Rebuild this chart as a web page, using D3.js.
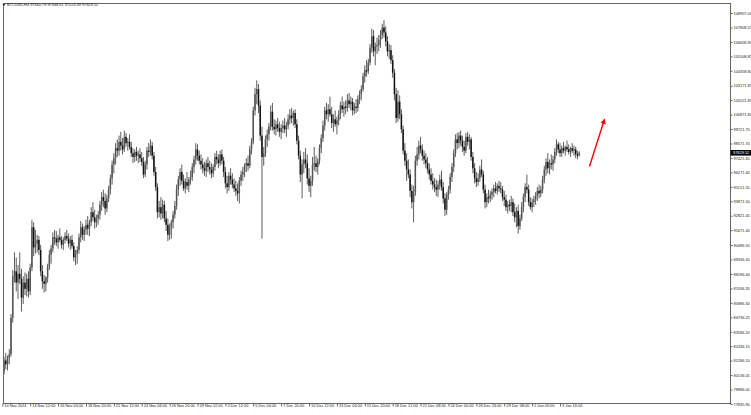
<!DOCTYPE html>
<html><head><meta charset="utf-8">
<script src="https://cdn.jsdelivr.net/npm/d3@7"></script>
<style>html,body{margin:0;padding:0;background:#fff;}svg{display:block;}</style>
</head><body>
<svg id="c" width="751" height="415"></svg>
<script>
const symbolTitle = "BTCUSD,H4";
const lastOHLC = ["97640.78","97948.61","97524.49","97829.52"];
const timeLabels = ["10 Nov 2024","13 Nov 12:00","16 Nov 04:00","18 Nov 20:00","21 Nov 12:00","24 Nov 04:00","26 Nov 20:00","29 Nov 12:00","2 Dec 12:00","5 Dec 04:00","7 Dec 20:00","10 Dec 12:00","13 Dec 04:00","15 Dec 20:00","18 Dec 12:00","21 Dec 08:00","24 Dec 00:00","26 Dec 16:00","29 Dec 08:00","1 Jan 00:00","3 Jan 16:00"];
const timeLabelBars = [0,16,32,48,64,80,96,112,128,144,160,176,192,208,224,240,256,272,288,304,320];
const priceLabels = ["108957.00","107808.55","106658.90","105508.85","104358.80","103171.95","102021.85","100871.80","99721.75","98571.70","97421.65","96271.60","95121.55","93971.50","92821.45","91671.40","90486.50","89336.45","88186.40","87036.35","85886.30","84736.25","83586.20","82436.15","81286.10","80136.05","78986.00","77835.95"];
const currentPrice = 97829.52;

const open = [
78700,80400,81300,81000,81500,81800,84700,88000,88400,87500,
88200,87800,86300,87500,87000,87800,86800,88700,91900,90300,
90600,90900,90100,88400,87600,87400,87900,88800,89700,90200,
91100,91000,90700,91100,90900,90500,90900,91200,91000,90600,
90900,90400,89500,89800,90100,91100,91900,91300,91700,92100,
91800,92300,93100,92700,92300,92600,92900,93700,94300,94000,
93400,94200,94900,95800,96900,97400,98200,98000,98700,98400,
98100,99100,98600,98700,98300,97800,97500,97900,97600,97700,
97400,97100,96100,96900,98000,97900,98400,97600,96300,95100,
93100,93500,93000,93700,92600,92100,91300,91900,92300,92900,
93600,94900,95700,96300,95600,95000,95500,95200,95700,95900,
96700,97300,98100,97600,97200,96900,96600,96400,97000,96700,
96500,96200,96700,97500,97300,97000,97700,97200,96300,95400,
95100,96000,95700,95300,95000,94800,94600,95600,96100,96300,
96800,97000,96800,98100,98700,101200,102500,102900,101600,99200,
97500,97800,98900,99300,99900,101100,99900,99700,100100,99800,
99500,99800,100000,99700,100000,100500,100800,100600,101000,100100,
98800,97600,96100,96900,97300,97000,95800,95200,95600,96900,
97000,96700,97200,98200,99000,100000,101200,100900,101300,100900,
100200,100500,100100,100400,100900,101600,101300,101500,101400,102000,
101700,101900,101200,101500,101400,102100,102500,102900,103900,104400,
104300,105000,106200,107100,105900,106300,106400,106800,107200,107800,
107400,106700,105900,106000,105200,104200,102500,100600,101900,100900,
99700,98000,97200,96500,96100,94800,93900,94700,97200,97700,
98400,98100,97600,97300,97000,96500,96100,95600,95300,95100,
94900,95300,95700,95100,94200,93300,94500,94900,95900,96700,
97800,98900,98600,99200,98800,98300,98000,99100,98700,98900,
97500,96600,95800,95500,95800,96500,96100,94900,93900,94300,
94200,94500,94700,95000,94800,95200,95000,94900,94300,94100,
93500,93700,93600,93900,93100,92700,93200,92000,92600,93500,
94300,95100,94900,93900,93500,93900,94100,94400,94800,94600,
94900,95700,96500,97100,96600,97000,96900,97300,97900,98500,
98100,97800,98200,98000,98300,98100,97900,98200,98000,98100,
97700,97640.78];

const high = [
81000,81600,81900,81700,82200,85000,88500,89900,89500,88900,
89900,88600,88000,88300,88200,88400,89000,92500,92300,91700,
91300,91200,90500,88900,88100,88000,89000,90100,90500,91500,
91700,91600,91300,91800,91200,91100,91500,91700,91400,91200,
91300,90700,90100,90400,91400,92400,92200,92000,92500,92800,
92500,93500,93900,93300,92900,93200,94000,94700,94900,94600,
94500,95200,96100,97200,97800,98600,98900,99200,99500,99000,
99600,99400,99000,99300,98700,98200,98100,98300,98000,98200,
97900,97500,97200,98300,98600,98900,98700,97900,96700,95400,
94000,94300,94100,94000,93200,92600,92200,92500,93200,94000,
95300,96000,96600,96900,96100,95800,96300,95900,96400,97000,
97600,98600,98500,98000,97700,97400,97100,97300,97500,97200,
97000,96900,97800,98000,97700,98000,98100,97500,96700,96000,
96300,96600,96200,95800,95600,95400,95900,96400,96700,97000,
97400,97600,98400,99000,101500,103000,103600,103300,102000,99900,
98300,99200,99700,100200,101600,101800,100500,100400,100600,100300,
100100,100400,100600,100300,100900,101300,101400,101200,101300,100500,
99200,98000,97300,97900,98200,97700,96600,96000,97500,98300,
97600,97400,98500,99300,100400,101500,101800,101700,102300,101500,
100900,101200,100700,101200,101900,102300,101900,102000,102500,102600,
102300,102200,101800,102100,102400,102800,103200,104200,104800,105200,
105300,106500,107700,107600,106600,107000,107200,107600,108100,108400,
107900,107100,106500,106400,105600,104500,103000,102800,102400,101300,
100000,98600,97800,97300,96500,95300,95200,97600,98300,98800,
99100,98500,98000,97800,97500,97000,96600,96200,95800,95700,
95600,96100,96400,95500,94600,94700,95200,96200,97000,98100,
99300,99400,99500,99600,99200,98800,99400,99500,99300,99100,
97900,97000,96300,96200,96800,97300,96400,95300,94600,94900,
94800,95000,95300,95500,95400,95600,95500,95200,94800,94500,
94000,94100,94400,94200,93800,93500,93700,92900,93900,94600,
95400,96100,95300,94300,94200,94400,94700,95100,95300,95200,
96000,96800,97400,97800,97300,97700,97600,98200,98900,98700,
98600,98400,98700,98400,98800,98500,98300,98600,98400,98300,
98000,97948.61];

const low = [
78400,80200,80600,80500,81000,81600,84300,87500,86800,86200,
87400,85200,85800,86500,86400,86300,86500,88400,89600,89800,
89900,89700,88000,87000,86700,86800,87500,88500,89000,89900,
90500,90400,90200,90700,90200,90100,90600,90800,90300,90100,
90200,89200,88900,89000,89800,90700,90900,90800,91300,91300,
91200,92000,92400,91800,91900,92100,92500,93200,93500,92900,
93100,93900,94500,95300,96200,96900,97500,97600,98000,97700,
97900,98300,98000,98100,97500,97000,97100,97200,97000,97100,
96800,95800,95900,96500,97500,97600,97300,96000,94800,92600,
92700,92500,92600,92300,91600,90800,90900,91000,91800,92600,
93300,94400,95200,95300,94800,94600,94900,94700,95300,95600,
96200,96900,97200,96900,96500,96200,96000,95900,96300,96100,
95800,95900,96400,96900,96600,96800,96900,95900,95000,94600,
94800,95300,95000,94700,94400,94000,93800,95200,95600,95900,
96300,96400,96600,97700,98500,100800,101700,101000,98800,91000,
96800,97500,98300,98800,99600,99600,99300,99200,99500,99100,
98900,99400,99400,99100,99700,100100,100200,100000,99800,98500,
97300,95500,94200,96200,96600,95300,94700,94300,95200,96400,
96300,96100,96900,97800,98700,99600,100500,100300,100700,99800,
99500,99900,99300,100000,100500,101000,100700,100900,101100,101400,
101200,100800,100900,101000,101100,101700,102000,102700,103400,103900,
104100,104800,105800,105500,104800,105700,105900,106200,106900,107000,
106300,105500,105300,104900,103800,102000,100200,100300,100500,99400,
97700,96800,95600,95800,94300,93400,92300,94400,96800,97300,
97800,97200,96900,96600,96200,95700,95300,94900,94700,94400,
94300,94900,94800,93800,92800,92900,94100,94600,95500,96300,
97500,98100,98200,98400,97900,97600,97800,98400,98100,97200,
96200,95400,95100,95200,95500,95900,94600,93400,93500,93800,
93900,94100,94300,94600,94500,94700,94600,94000,93600,93200,
93000,93200,93100,92800,92300,91900,91400,91700,92400,93100,
93900,94600,93600,93300,93100,93500,93700,94000,94200,94300,
94600,95400,96000,96200,96100,96500,96400,97000,97600,97800,
97500,97500,97800,97600,97900,97700,97500,97800,97600,97400,
97300,97524.49];

const close = [
80400,81300,81000,81500,81800,84700,88000,88400,87500,88200,
87800,86300,87500,87000,87800,86800,88700,91900,90300,90600,
90900,90100,88400,87600,87400,87900,88800,89700,90200,91100,
91000,90700,91100,90900,90500,90900,91200,91000,90600,90900,
90400,89500,89800,90100,91100,91900,91300,91700,92100,91800,
92300,93100,92700,92300,92600,92900,93700,94300,94000,93400,
94200,94900,95800,96900,97400,98200,98000,98700,98400,98100,
99100,98600,98700,98300,97800,97500,97900,97600,97700,97400,
97100,96100,96900,98000,97900,98400,97600,96300,95100,93100,
93500,93000,93700,92600,92100,91300,91900,92300,92900,93600,
94900,95700,96300,95600,95000,95500,95200,95700,95900,96700,
97300,98100,97600,97200,96900,96600,96400,97000,96700,96500,
96200,96700,97500,97300,97000,97700,97200,96300,95400,95100,
96000,95700,95300,95000,94800,94600,95600,96100,96300,96800,
97000,96800,98100,98700,101200,102500,102900,101600,99200,97500,
97800,98900,99300,99900,101100,99900,99700,100100,99800,99500,
99800,100000,99700,100000,100500,100800,100600,101000,100100,98800,
97600,96100,96900,97300,97000,95800,95200,95600,96900,97000,
96700,97200,98200,99000,100000,101200,100900,101300,100900,100200,
100500,100100,100400,100900,101600,101300,101500,101400,102000,101700,
101900,101200,101500,101400,102100,102500,102900,103900,104400,104300,
105000,106200,107100,105900,106300,106400,106800,107200,107800,107400,
106700,105900,106000,105200,104200,102500,100600,101900,100900,99700,
98000,97200,96500,96100,94800,93900,94700,97200,97700,98400,
98100,97600,97300,97000,96500,96100,95600,95300,95100,94900,
95300,95700,95100,94200,93300,94500,94900,95900,96700,97800,
98900,98600,99200,98800,98300,98000,99100,98700,98900,97500,
96600,95800,95500,95800,96500,96100,94900,93900,94300,94200,
94500,94700,95000,94800,95200,95000,94900,94300,94100,93500,
93700,93600,93900,93100,92700,93200,92000,92600,93500,94300,
95100,94900,93900,93500,93900,94100,94400,94800,94600,94900,
95700,96500,97100,96600,97000,96900,97300,97900,98500,98100,
97800,98200,98000,98300,98100,97900,98200,98000,98100,97700,
97600,97829.52];

// red annotation arrow, in bar index / price units
const arrowPts = [{bar: 336.9, price: 96740}, {bar: 345.5, price: 100480}];

const svg = d3.select("#c");
const plot = {left: 3, right: 730, top: 3, bottom: 403};
const x = d3.scaleLinear().domain([0, 320]).range([2.3, 560]);
const priceValues = priceLabels.map(Number);
const y = d3.scaleLinear().domain([priceValues[priceValues.length-1], priceValues[0]]).range([404, 13]);
const FONT = "'Liberation Sans', Arial, sans-serif";

svg.append("rect").attr("width", 751).attr("height", 415).attr("fill", "#fff");

svg.append("defs").append("clipPath").attr("id", "pc")
  .append("rect").attr("x", plot.left).attr("y", plot.top)
  .attr("width", plot.right - plot.left).attr("height", plot.bottom - plot.top);

// candles
const bars = d3.range(open.length).map(i => ({i, o: open[i], h: high[i], l: low[i], c: close[i]}));
const cg = svg.append("g").attr("clip-path", "url(#pc)");
cg.selectAll("line.w").data(bars).join("line").attr("class", "w")
  .attr("x1", d => x(d.i)).attr("x2", d => x(d.i))
  .attr("y1", d => y(d.h)).attr("y2", d => y(d.l))
  .attr("stroke", "#333").attr("stroke-width", 0.8);
cg.selectAll("rect.b").data(bars).join("rect").attr("class", "b")
  .attr("x", d => x(d.i) - 0.75).attr("width", 1.5)
  .attr("y", d => y(Math.max(d.o, d.c)))
  .attr("height", d => Math.max(0.6, Math.abs(y(d.o) - y(d.c))))
  .attr("fill", d => d.c >= d.o ? "#555" : "#111");

// frame
svg.append("rect").attr("x", plot.left + 0.5).attr("y", plot.top + 0.5)
  .attr("width", plot.right - plot.left).attr("height", plot.bottom - plot.top)
  .attr("fill", "none").attr("stroke", "#666").attr("stroke-width", 1);

// price axis
const ya = d3.axisRight(y).tickValues(priceValues).tickFormat((d, i) => priceLabels[i]).tickSize(2).tickPadding(1);
const yg = svg.append("g").attr("transform", `translate(${plot.right + 0.5},0)`).call(ya);
yg.select(".domain").remove();
yg.selectAll("line").attr("stroke", "#666");
yg.selectAll("text").attr("font-family", FONT).attr("font-size", 3.9).attr("fill", "#222");

// time axis
const xa = d3.axisBottom(x).tickValues(timeLabelBars).tickFormat((d, i) => timeLabels[i]).tickSize(3).tickPadding(0);
const xg = svg.append("g").attr("transform", `translate(0,${plot.bottom + 0.5})`).call(xa);
xg.select(".domain").remove();
xg.selectAll("line").attr("stroke", "#666");
xg.selectAll("text").attr("font-family", FONT).attr("font-size", 3.9).attr("fill", "#222")
  .attr("text-anchor", "start").attr("dx", 1.5).attr("dy", "0.2em");

// current price box
const cpY = y(currentPrice);
svg.append("rect").attr("x", plot.right + 0.5).attr("y", cpY - 2.8).attr("width", 21).attr("height", 5.6).attr("fill", "#000");
svg.append("text").attr("x", plot.right + 3).attr("y", cpY).attr("dy", "0.35em")
  .attr("font-family", FONT).attr("font-size", 3.9).attr("fill", "#fff").text(lastOHLC[3]);

// header
svg.append("path").attr("d", "M2.5,4 L5.5,4 L4,6 Z").attr("fill", "#333");
svg.append("text").attr("x", 7).attr("y", 5).attr("dy", "0.35em")
  .attr("font-family", FONT).attr("font-size", 3.9).attr("fill", "#222")
  .text(symbolTitle + " " + lastOHLC.join(" "));

// arrow
svg.append("defs").append("marker").attr("id", "ah").attr("viewBox", "0 0 10 10")
  .attr("refX", 8).attr("refY", 5).attr("markerWidth", 4).attr("markerHeight", 4).attr("orient", "auto")
  .append("path").attr("d", "M0,0 L10,5 L0,10 Z").attr("fill", "#ff0000");
svg.append("line")
  .attr("x1", x(arrowPts[0].bar)).attr("y1", y(arrowPts[0].price))
  .attr("x2", x(arrowPts[1].bar)).attr("y2", y(arrowPts[1].price))
  .attr("stroke", "#ff0000").attr("stroke-width", 1.4).attr("marker-end", "url(#ah)");
</script>
</body></html>
